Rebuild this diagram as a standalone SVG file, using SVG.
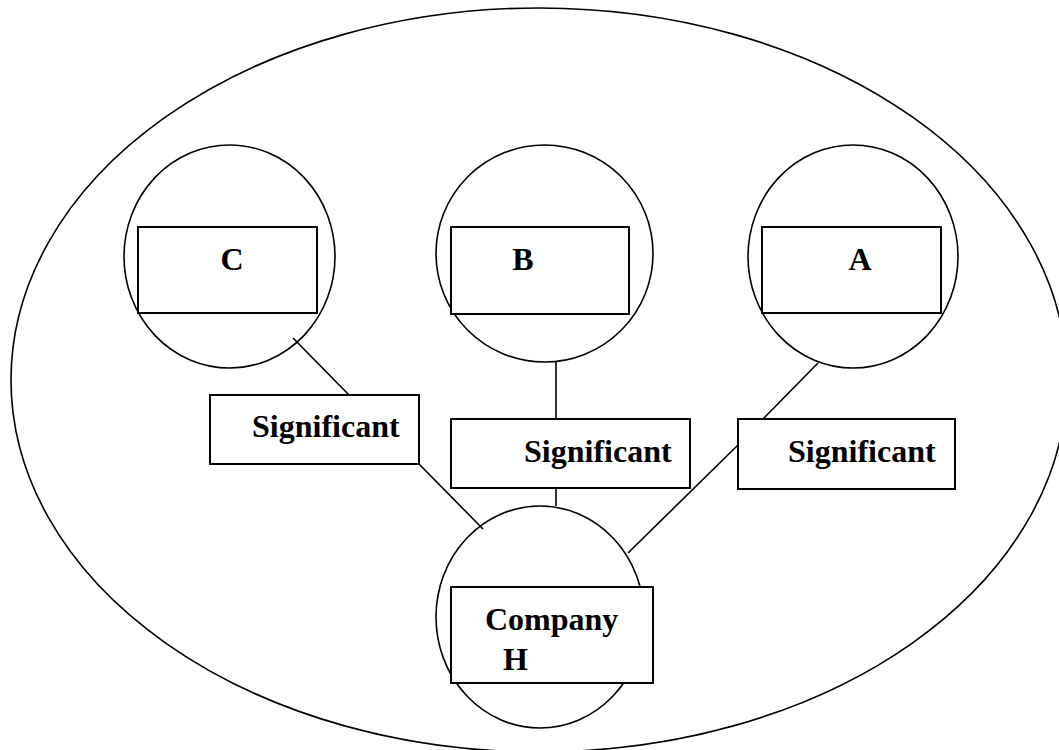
<svg xmlns="http://www.w3.org/2000/svg" width="1059" height="750" viewBox="0 0 1059 750">
<style>
.shape{fill:none;stroke:#000;stroke-width:1.6}
.box{fill:#fff;stroke:#000;stroke-width:2}
.conn{stroke:#000;stroke-width:1.6;fill:none}
text{font-family:"Liberation Serif","Times New Roman",serif;font-weight:bold;font-size:32px;fill:#000}
</style>
<rect width="1059" height="750" fill="#fff"/>
<g id="boundary"><ellipse class="shape" cx="539" cy="380" rx="528" ry="372"/></g>
<g id="node-C">
<ellipse class="shape" cx="229.5" cy="256.5" rx="105.5" ry="111.5"/>
<rect class="box" x="138" y="227" width="179" height="86"/>
<text x="232" y="270" text-anchor="middle">C</text>
</g>
<g id="node-B">
<ellipse class="shape" cx="544.5" cy="253.5" rx="108.5" ry="108.5"/>
<rect class="box" x="451" y="227" width="178" height="87"/>
<text x="523" y="270" text-anchor="middle">B</text>
</g>
<g id="node-A">
<ellipse class="shape" cx="853" cy="256.5" rx="105" ry="111.5"/>
<rect class="box" x="762" y="227" width="179" height="86"/>
<text x="860" y="270" text-anchor="middle">A</text>
</g>
<g id="node-H">
<ellipse class="shape" cx="540" cy="617" rx="104" ry="111"/>
<rect class="box" x="451" y="587" width="202" height="96"/>
<text x="485" y="630">Company</text>
<text x="503" y="670">H</text>
</g>
<g id="connectors">
<line class="conn" x1="293" y1="338" x2="349" y2="395"/>
<line class="conn" x1="419" y1="464" x2="483" y2="529"/>
<line class="conn" x1="556" y1="362" x2="556" y2="419"/>
<line class="conn" x1="556" y1="488" x2="556" y2="506"/>
<line class="conn" x1="818" y1="363" x2="763" y2="419"/>
<line class="conn" x1="738" y1="445" x2="628" y2="553"/>
</g>
<g id="sig-C">
<rect class="box" x="210" y="395" width="209" height="69"/>
<text x="252" y="437">Significant</text>
</g>
<g id="sig-B">
<rect class="box" x="451" y="419" width="239" height="69"/>
<text x="524" y="462">Significant</text>
</g>
<g id="sig-A">
<rect class="box" x="738" y="419" width="217" height="70"/>
<text x="788" y="462">Significant</text>
</g>
</svg>
